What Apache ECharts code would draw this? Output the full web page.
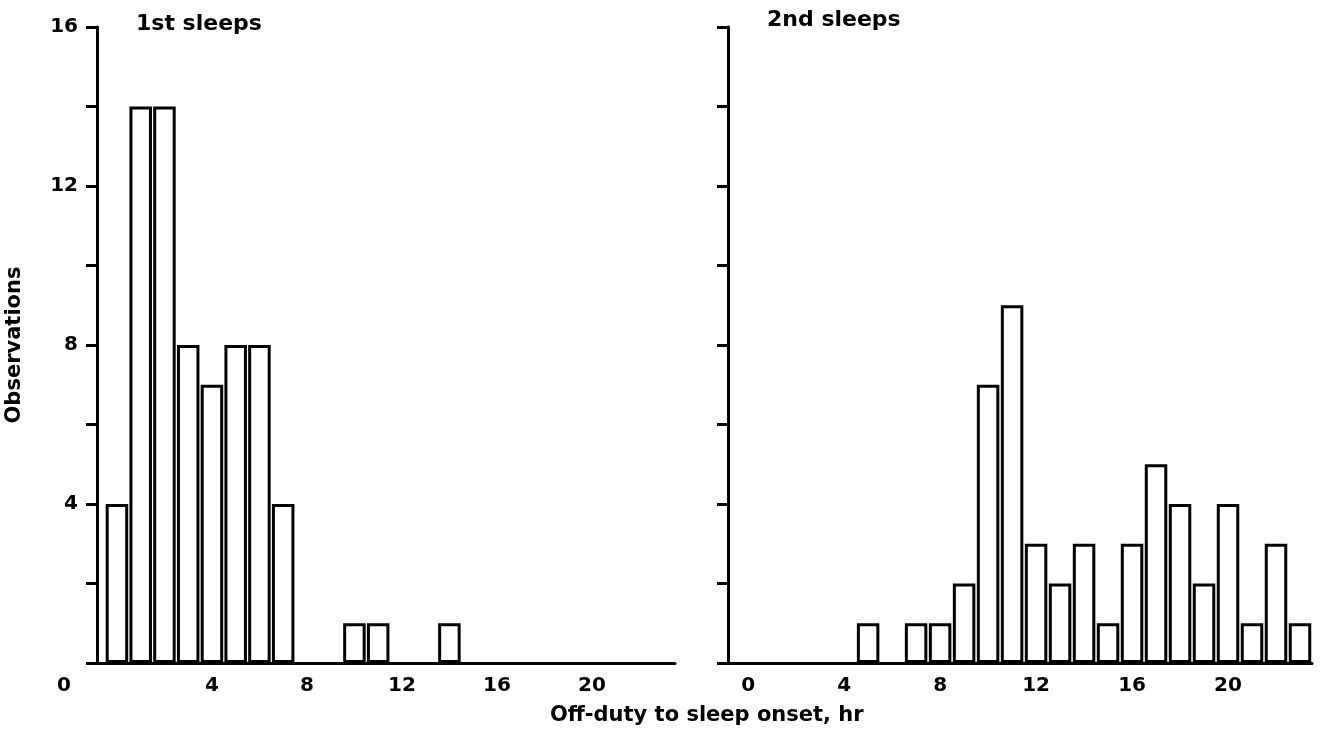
<!DOCTYPE html>
<html>
<head>
<meta charset="utf-8">
<script src="https://cdn.jsdelivr.net/npm/echarts@6/dist/echarts.min.js"></script>
<style>
html,body{margin:0;padding:0;background:#fff;}
#chart{width:1320px;height:731px;}
</style>
</head>
<body>
<div id="chart"></div>
<script>
// Hour bins (centre of each bar)
var hours = [0,1,2,3,4,5,6,7,8,9,10,11,12,13,14,15,16,17,18,19,20,21,22,23];
// Observations per hour, 1st sleeps
var firstSleeps = [4,14,14,8,7,8,8,4,0,0,1,1,0,0,1,0,0,0,0,0,0,0,0,0];
// Observations per hour, 2nd sleeps
var secondSleeps = [0,0,0,0,0,1,0,1,1,2,7,9,3,2,3,1,3,5,4,2,4,1,3,1];
// Tick labels
var leftXLabels = [4,8,12,16,20];
var rightXLabels = [0,4,8,12,16,20];
var panelTitles = ['1st sleeps','2nd sleeps'];
var xTitle = 'Off-duty to sleep onset, hr';
var yTitle = 'Observations';

function pairs(vals){
  var out = [];
  for (var i = 0; i < hours.length; i++) if (vals[i] > 0) out.push([hours[i], vals[i]]);
  return out;
}

var FONT = 'DejaVu Sans';
var lineStyle = {color:'#000', width:3};
var labelStyle = {color:'#000', fontFamily:FONT, fontWeight:'bold', fontSize:20};

function xAxis(idx, labels){
  return {
    type:'value', gridIndex:idx, min:-0.84, max:23.5,
    axisLine:{show:true, onZero:false, lineStyle:lineStyle},
    axisTick:{show:false}, splitLine:{show:false},
    axisLabel:Object.assign({customValues:labels, margin:13}, labelStyle)
  };
}
function yAxis(idx, showLabels){
  var a = {
    type:'value', gridIndex:idx, min:0, max:16, interval:2,
    axisLine:{show:true, onZero:false, lineStyle:lineStyle},
    axisTick:{show:true, length:11, lineStyle:lineStyle},
    splitLine:{show:false},
    axisLabel:Object.assign({
      show:showLabels, margin:19,
      formatter:function(v){ if (v % 4 !== 0) return ''; return v === 0 ? '{z|0}' : String(v); },
      rich:{z:{padding:[46,7,0,0], color:'#000', fontFamily:FONT, fontWeight:'bold', fontSize:20}}
    }, labelStyle)
  };
  if (idx === 0) {
    a.name = yTitle; a.nameLocation = 'middle'; a.nameGap = 72; a.nameRotate = 90;
    a.nameTextStyle = {color:'#000', fontFamily:FONT, fontWeight:'bold', fontSize:21};
  }
  return a;
}
function barSeries(idx, vals){
  return {
    type:'bar', xAxisIndex:idx, yAxisIndex:idx, data:pairs(vals),
    barWidth:22.5, silent:true,
    itemStyle:{color:'#fff', borderColor:'#000', borderWidth:3}
  };
}

var chart = echarts.init(document.getElementById('chart'), null, {renderer:'canvas'});
chart.setOption({
  backgroundColor:'#fff',
  animation:false,
  title:[
    {text:panelTitles[0], left:131, top:8, textStyle:{color:'#000', fontFamily:FONT, fontWeight:'bold', fontSize:22}},
    {text:panelTitles[1], left:762, top:4, textStyle:{color:'#000', fontFamily:FONT, fontWeight:'bold', fontSize:22}},
    {text:xTitle, left:545, top:700, textStyle:{color:'#000', fontFamily:FONT, fontWeight:'bold', fontSize:21}}
  ],
  grid:[
    {left:97, top:27, width:578, height:636},
    {left:728, top:27, width:584, height:636}
  ],
  xAxis:[xAxis(0, leftXLabels), xAxis(1, rightXLabels)],
  yAxis:[yAxis(0, true), yAxis(1, false)],
  series:[barSeries(0, firstSleeps), barSeries(1, secondSleeps)]
});
</script>
</body>
</html>
